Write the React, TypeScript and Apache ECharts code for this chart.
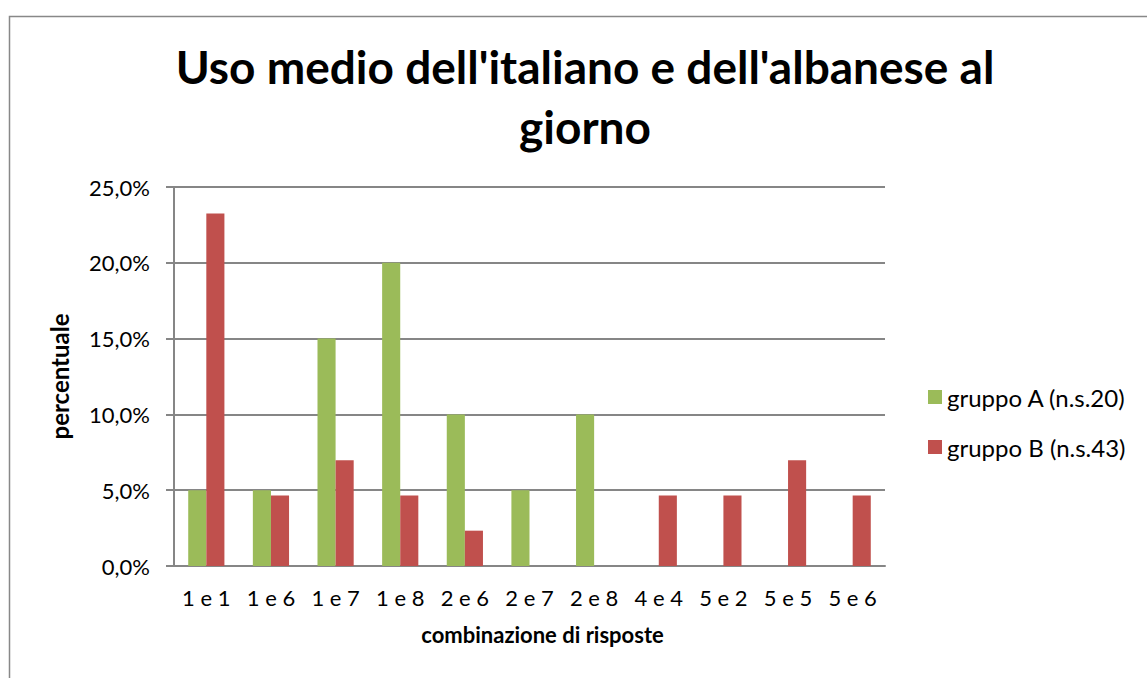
import React, { useEffect, useRef } from "react";
import * as echarts from "echarts";

const categories = ["1 e 1", "1 e 6", "1 e 7", "1 e 8", "2 e 6", "2 e 7", "2 e 8", "4 e 4", "5 e 2", "5 e 5", "5 e 6"];
const groupA = [0.05, 0.05, 0.15, 0.2, 0.1, 0.05, 0.1, 0, 0, 0, 0];
const groupB = [0.2326, 0.0465, 0.0698, 0.0465, 0.0233, 0, 0, 0.0465, 0.0465, 0.0698, 0.0465];
const seriesNames = ["gruppo A (n.s.20)", "gruppo B (n.s.43)"];
const titleText = "Uso medio dell'italiano e dell'albanese al\ngiorno";
const xName = "combinazione di risposte";
const yName = "percentuale";

const FONT = "Lato, 'Open Sans', sans-serif";

export default function App() {
  const ref = useRef<HTMLDivElement>(null);
  useEffect(() => {
    if (!ref.current) return;
    const chart = echarts.init(ref.current, null, { renderer: "svg" });
    chart.setOption({
      animation: false,
      backgroundColor: "#ffffff",
      textStyle: { fontFamily: FONT },
      graphic: [
        {
          type: "rect",
          shape: { x: 9.5, y: 16.5, width: 1300, height: 800 },
          style: { fill: "none", stroke: "#888888", lineWidth: 1.5 },
          silent: true,
        },
        {
          type: "text",
          x: 585,
          y: 36,
          silent: true,
          style: {
            text: titleText,
            fontFamily: FONT,
            fontSize: 46,
            fontWeight: "bold",
            fill: "#000",
            lineHeight: 60,
            align: "center",
            verticalAlign: "top",
          },
        },
      ],
      legend: {
        orient: "vertical",
        left: 923,
        top: 380,
        itemWidth: 14,
        itemHeight: 14,
        itemGap: 26,
        icon: "rect",
        data: seriesNames,
        textStyle: { fontFamily: FONT, fontSize: 24, color: "#000", lineHeight: 24 },
      },
      grid: { left: 174, right: 262, top: 187, bottom: 112, containLabel: false },
      xAxis: {
        type: "category",
        data: categories,
        name: xName,
        nameLocation: "middle",
        nameGap: 57,
        nameTextStyle: { fontFamily: FONT, fontSize: 22, fontWeight: "bold", color: "#000", padding: [0, 0, 0, 26] },
        axisLine: { lineStyle: { color: "#868686", width: 2 } },
        axisTick: { show: false },
        axisLabel: { fontFamily: FONT, fontSize: 22, color: "#000", margin: 20 },
      },
      yAxis: {
        type: "value",
        min: 0,
        max: 0.25,
        interval: 0.05,
        name: yName,
        nameLocation: "middle",
        nameRotate: 90,
        nameGap: 103,
        nameTextStyle: { fontFamily: FONT, fontSize: 24, fontWeight: "bold", color: "#000" },
        axisLine: { show: true, lineStyle: { color: "#868686", width: 2 } },
        axisTick: { show: true, length: 8, lineStyle: { color: "#868686", width: 2 } },
        axisLabel: {
          fontFamily: FONT,
          fontSize: 22,
          color: "#000",
          margin: 24,
          formatter: (v: number) => (v * 100).toFixed(1).replace(".", ",") + "%",
        },
        splitLine: { lineStyle: { color: "#868686", width: 2 } },
      },
      series: [
        {
          name: seriesNames[0],
          type: "bar",
          data: groupA,
          itemStyle: { color: "#9BBB59" },
          barGap: "0%",
          barCategoryGap: "44%",
        },
        {
          name: seriesNames[1],
          type: "bar",
          data: groupB,
          itemStyle: { color: "#C0504D" },
          barGap: "0%",
          barCategoryGap: "44%",
        },
      ],
    });
    return () => chart.dispose();
  }, []);
  return (
    <div
      ref={ref}
      style={{ position: "absolute", left: 0, top: 0, width: 1147, height: 678 }}
    />
  );
}
